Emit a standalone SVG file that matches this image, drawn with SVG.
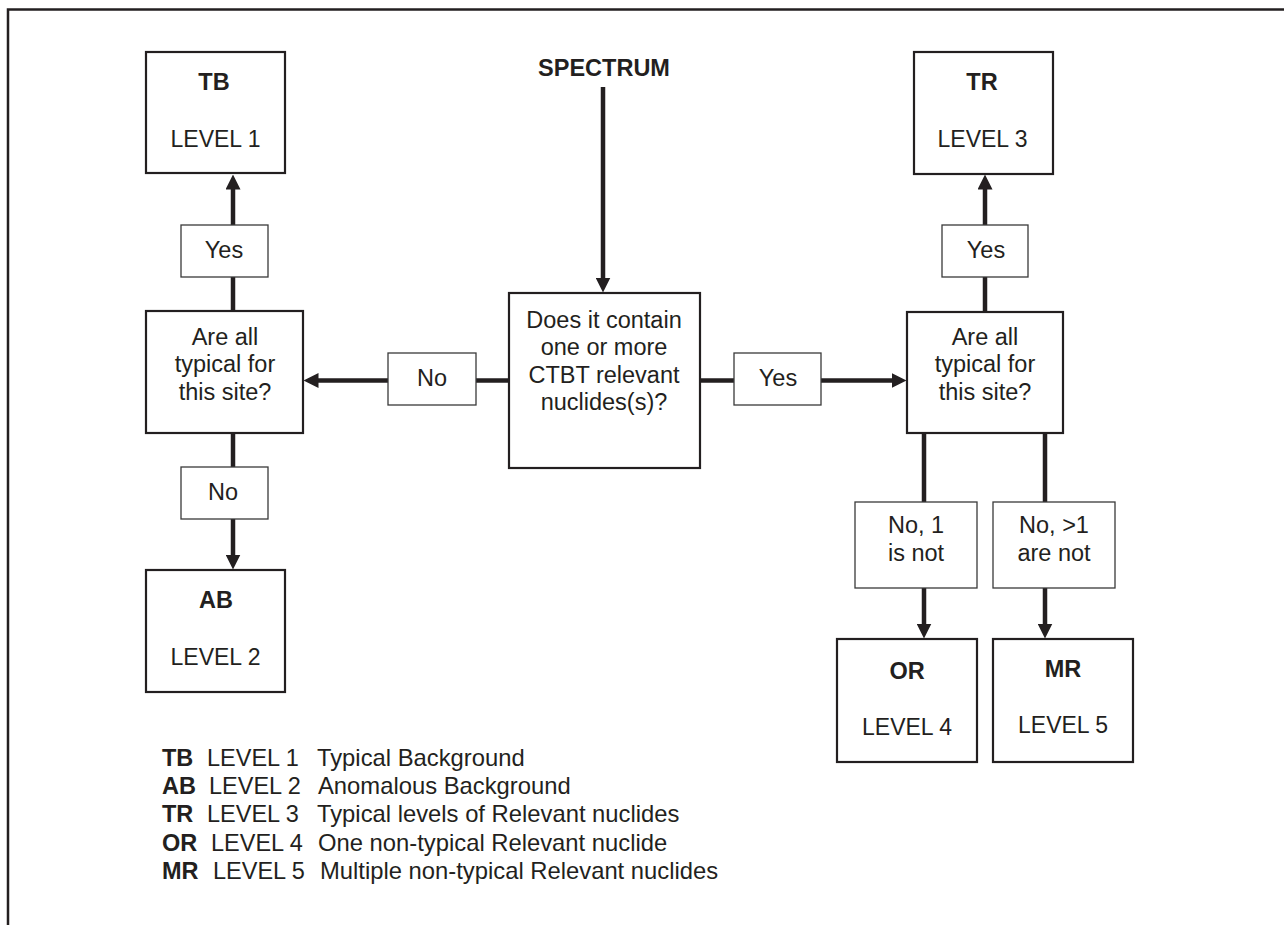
<svg xmlns="http://www.w3.org/2000/svg" width="1284" height="925" viewBox="0 0 1284 925">
<style>
text{font-family:"Liberation Sans",Arial,Helvetica,sans-serif;font-size:23.5px;fill:#231f20}
.c{text-anchor:middle}
.b{font-weight:bold}
.lv{font-size:23px}
.d{font-size:23.8px}
.box{fill:#fff;stroke:#231f20;stroke-width:2.2}
.lbl{fill:#fff;stroke:#3a3a3a;stroke-width:1.3}
.con{stroke:#231f20;stroke-width:4.5;fill:none}
.arr{marker-end:url(#ah)}
</style>
<defs>
<marker id="ah" viewBox="0 0 15 15" refX="0.5" refY="7.5" markerWidth="15" markerHeight="15" markerUnits="userSpaceOnUse" orient="auto">
<path d="M0,0 L15,7.5 L0,15 z" fill="#231f20"/>
</marker>
</defs>
<rect width="1284" height="925" fill="#fff"/>
<path d="M8,925 V9.5 H1284" fill="none" stroke="#231f20" stroke-width="2.5"/>
<g id="connectors">
<line class="con arr" x1="603" y1="87" x2="603" y2="278"/>
<line class="con arr" x1="509" y1="380.5" x2="318" y2="380.5"/>
<line class="con arr" x1="700" y1="380.5" x2="892" y2="380.5"/>
<line class="con arr" x1="233" y1="311" x2="233" y2="189"/>
<line class="con arr" x1="233" y1="433" x2="233" y2="555"/>
<line class="con arr" x1="985" y1="312" x2="985" y2="189"/>
<line class="con arr" x1="924" y1="433" x2="924" y2="624"/>
<line class="con arr" x1="1045" y1="433" x2="1045" y2="624"/>
</g>
<g id="spectrum"><text class="c b" x="604" y="76">SPECTRUM</text></g>
<g id="q-main">
<rect class="box" x="509" y="293" width="191" height="175"/>
<text class="c" x="604" y="328">Does it contain</text>
<text class="c" x="604" y="355">one or more</text>
<text class="c" x="604" y="383">CTBT relevant</text>
<text class="c" x="604" y="410">nuclides(s)?</text>
</g>
<g id="q-left">
<rect class="box" x="146" y="311" width="157" height="122"/>
<text class="c" x="225" y="345">Are all</text>
<text class="c" x="225" y="372">typical for</text>
<text class="c" x="225" y="400">this site?</text>
</g>
<g id="q-right">
<rect class="box" x="907" y="312" width="156" height="121"/>
<text class="c" x="985" y="345">Are all</text>
<text class="c" x="985" y="372">typical for</text>
<text class="c" x="985" y="400">this site?</text>
</g>
<g id="tb">
<rect class="box" x="146" y="52" width="139" height="121"/>
<text class="c b" x="214" y="90">TB</text>
<text class="c lv" x="215.5" y="147">LEVEL 1</text>
</g>
<g id="ab">
<rect class="box" x="146" y="570" width="139" height="122"/>
<text class="c b" x="216" y="608">AB</text>
<text class="c lv" x="215.5" y="665">LEVEL 2</text>
</g>
<g id="tr">
<rect class="box" x="914" y="52" width="139" height="122"/>
<text class="c b" x="982" y="90">TR</text>
<text class="c lv" x="982.5" y="147">LEVEL 3</text>
</g>
<g id="or">
<rect class="box" x="837" y="639" width="140" height="123"/>
<text class="c b" x="907" y="679">OR</text>
<text class="c lv" x="907" y="735">LEVEL 4</text>
</g>
<g id="mr">
<rect class="box" x="993" y="639" width="140" height="123"/>
<text class="c b" x="1063" y="677">MR</text>
<text class="c lv" x="1063" y="733">LEVEL 5</text>
</g>
<g id="lbl-no-left">
<rect class="lbl" x="388" y="353" width="88" height="52"/>
<text class="c" x="432" y="386">No</text>
</g>
<g id="lbl-yes-right">
<rect class="lbl" x="734" y="353" width="87" height="52"/>
<text class="c" x="778" y="386">Yes</text>
</g>
<g id="lbl-yes-tb">
<rect class="lbl" x="181" y="225" width="87" height="52"/>
<text class="c" x="224" y="258">Yes</text>
</g>
<g id="lbl-no-ab">
<rect class="lbl" x="181" y="467" width="87" height="52"/>
<text class="c" x="223" y="500">No</text>
</g>
<g id="lbl-yes-tr">
<rect class="lbl" x="942" y="225" width="86" height="52"/>
<text class="c" x="986" y="258">Yes</text>
</g>
<g id="lbl-no1">
<rect class="lbl" x="855" y="502" width="122" height="86"/>
<text class="c" x="916" y="533">No, 1</text>
<text class="c" x="916" y="561">is not</text>
</g>
<g id="lbl-nomore">
<rect class="lbl" x="993" y="502" width="122" height="86"/>
<text class="c" x="1054" y="533">No, &gt;1</text>
<text class="c" x="1054" y="561">are not</text>
</g>
<g id="legend">
<text x="162" y="766"><tspan class="b">TB</tspan><tspan x="207">LEVEL 1</tspan><tspan class="d" x="317">Typical Background</tspan></text>
<text x="162" y="794"><tspan class="b">AB</tspan><tspan x="209">LEVEL 2</tspan><tspan class="d" x="318">Anomalous Background</tspan></text>
<text x="162" y="822"><tspan class="b">TR</tspan><tspan x="207">LEVEL 3</tspan><tspan class="d" x="317">Typical levels of Relevant nuclides</tspan></text>
<text x="162" y="851"><tspan class="b">OR</tspan><tspan x="211">LEVEL 4</tspan><tspan class="d" x="318">One non-typical Relevant nuclide</tspan></text>
<text x="162" y="879"><tspan class="b">MR</tspan><tspan x="213">LEVEL 5</tspan><tspan class="d" x="320">Multiple non-typical Relevant nuclides</tspan></text>
</g>
</svg>
